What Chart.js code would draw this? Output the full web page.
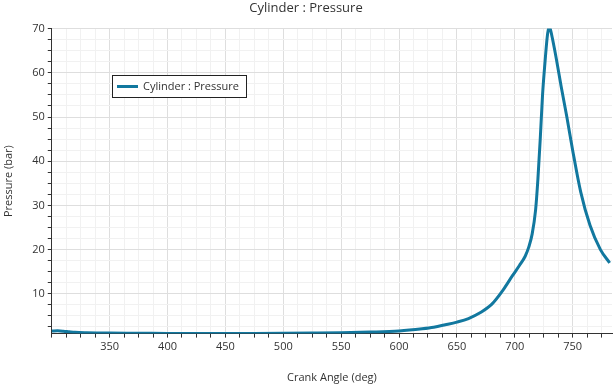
<!DOCTYPE html>
<html>
<head>
<meta charset="utf-8">
<script src="https://cdn.jsdelivr.net/npm/chart.js@4/dist/chart.umd.min.js"></script>
<style>
  html, body { margin: 0; padding: 0; background: #ffffff; }
  #wrap { width: 614px; height: 384px; position: relative; }
</style>
</head>
<body>
<div id="wrap"><canvas id="c" width="614" height="384"></canvas></div>
<script>
// Data
const crankAngle = [300, 305, 310, 315, 320, 330, 340, 350, 375, 400, 425, 450, 475, 500, 525, 550, 575, 600, 620, 630, 640, 650, 660, 670, 680, 690, 698, 704, 709, 712, 715, 718, 720, 722, 724, 726, 728, 729, 730, 731, 732.5, 736, 740, 745, 750, 757, 765, 774, 782];
const pressure   = [1.6, 1.62, 1.55, 1.42, 1.3, 1.2, 1.15, 1.12, 1.08, 1.03, 1.0, 1.0, 1.02, 1.06, 1.12, 1.2, 1.35, 1.6, 2.1, 2.45, 3.0, 3.6, 4.4, 5.7, 7.6, 10.9, 14.1, 16.4, 18.5, 20.5, 23.5, 29, 36, 45, 55, 62, 68, 69.8, 70.3, 69.6, 67.8, 63, 57, 50, 42.5, 33, 25.5, 20, 17];
const seriesName = 'Cylinder : Pressure';
const chartTitle = 'Cylinder : Pressure';
const xTitle = 'Crank Angle (deg)';
const yTitle = 'Pressure (bar)';
const xRange = [300, 784];
const yRange = [1.0, 70];
const xMajor = 50, xMinor = 12.5;
const yMajor = 10, yMinor = 2.5;

const points = crankAngle.map((x, i) => ({ x: x, y: pressure[i] }));
const FONT = 'Open Sans';
const LINE = '#12789f';

const legendBox = {
  id: 'legendBox',
  afterDraw(chart) {
    const ctx = chart.ctx, a = chart.chartArea;
    const x0 = Math.round(a.left + 60), y0 = Math.round(a.top + 46), w = 134, h = 22;
    ctx.save();
    ctx.fillStyle = '#ffffff';
    ctx.fillRect(x0, y0, w, h);
    ctx.strokeStyle = '#222';
    ctx.lineWidth = 1;
    ctx.strokeRect(x0 + 0.5, y0 + 0.5, w, h);
    ctx.strokeStyle = LINE;
    ctx.lineWidth = 3;
    ctx.beginPath();
    ctx.moveTo(x0 + 5, y0 + 11.5);
    ctx.lineTo(x0 + 26, y0 + 11.5);
    ctx.stroke();
    ctx.fillStyle = '#333';
    ctx.font = '11px "' + FONT + '"';
    ctx.textBaseline = 'middle';
    ctx.fillText(seriesName, x0 + 31, y0 + 12);
    ctx.restore();
  }
};

new Chart(document.getElementById('c'), {
  type: 'line',
  data: {
    datasets: [{
      label: seriesName,
      data: points,
      borderColor: LINE,
      borderWidth: 3,
      pointRadius: 0,
      fill: false,
      cubicInterpolationMode: 'monotone'
    }]
  },
  options: {
    responsive: false,
    animation: false,
    layout: { padding: { left: 0, right: 2, top: 0, bottom: 0 } },
    plugins: {
      legend: { display: false },
      tooltip: { enabled: false },
      title: {
        display: true, text: chartTitle, color: '#333',
        font: { family: FONT, size: 13, weight: 'normal' },
        padding: { top: 0, bottom: 13 }
      }
    },
    scales: {
      x: {
        type: 'linear', min: xRange[0], max: xRange[1],
        border: { color: '#333', width: 1 },
        grid: {
          color: c => (c.tick && c.tick.value % xMajor === 0) ? '#dedede' : '#f1f1f1',
          tickColor: '#333', tickLength: 4
        },
        ticks: {
          stepSize: xMinor, includeBounds: false, autoSkip: false, maxRotation: 0,
          color: '#333', font: { family: FONT, size: 11 }, padding: 3,
          callback: v => (v % xMajor === 0 && v !== xRange[0] ? String(v) : '')
        },
        title: {
          display: true, text: xTitle, color: '#333',
          font: { family: FONT, size: 11 }, padding: { top: 14, bottom: 0 }
        }
      },
      y: {
        type: 'linear', min: yRange[0], max: yRange[1],
        border: { color: '#333', width: 1 },
        grid: {
          color: c => (c.tick && c.tick.value % yMajor === 0) ? '#dedede' : '#f1f1f1',
          tickColor: '#333', tickLength: 4
        },
        ticks: {
          stepSize: yMinor, includeBounds: false, autoSkip: false,
          color: '#333', font: { family: FONT, size: 11 }, padding: 3,
          callback: v => (v % yMajor === 0 ? String(v) : '')
        },
        title: {
          display: true, text: yTitle, color: '#333',
          font: { family: FONT, size: 11 }, padding: { top: 2, bottom: 14 }
        }
      }
    }
  },
  plugins: [legendBox]
});
</script>
</body>
</html>
